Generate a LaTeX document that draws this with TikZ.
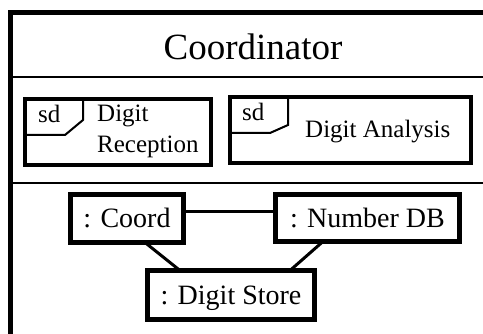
\documentclass[tikz,border=0pt]{standalone}
\usepackage{fontspec}
\setmainfont{Liberation Serif}
\begin{document}
\begin{tikzpicture}[x=1pt,y=-1pt,
  frame/.style={line width=4.5pt},
  divider/.style={line width=2.5pt},
  sdbox/.style={draw,line width=4.5pt,outer sep=0pt,inner sep=0pt,minimum height=66pt},
  tabline/.style={line width=2pt,line join=miter},
  objbox/.style={draw,line width=5pt,outer sep=0pt,inner sep=0pt,minimum height=47pt,
    font=\fontsize{28}{30}\selectfont,text height=21pt,text depth=2pt},
  link/.style={line width=3pt},
  sdtext/.style={font=\fontsize{25}{27}\selectfont,anchor=base west,inner sep=0pt}
]
\useasboundingbox (0,0) rectangle (483,334);
\fill[white] (0,0) rectangle (483,334);
% outer frame and compartments
\draw[frame] (10.5,345) -- (10.5,12.5) -- (495,12.5);
\draw[divider] (10.5,77) -- (495,77);
\draw[divider] (10.5,183) -- (495,183);
\node[font=\fontsize{37}{40}\selectfont,anchor=base,inner sep=0pt] (title) at (253,60) {Coordinator};
% sd Digit Reception
\node[sdbox,minimum width=186pt] (dr) at (118,132) {};
\draw[tabline] ([xshift=58pt]dr.north west) -- ++(0,21) -- ++(-18,15) -- ([yshift=-36pt]dr.north west);
\node[sdtext] (drsd) at ([xshift=13pt,yshift=-24pt]dr.north west) {sd};
\node[sdtext] (drl1) at ([xshift=72pt,yshift=-22.7pt]dr.north west) {Digit};
\node[sdtext] (drl2) at ([xshift=72pt,yshift=-54pt]dr.north west) {Reception};
% sd Digit Analysis
\node[sdbox,minimum width=241pt] (da) at (350.5,130) {};
\draw[tabline] ([xshift=58pt]da.north west) -- ++(0,28) -- ++(-18,8) -- ([yshift=-36pt]da.north west);
\node[sdtext] (dasd) at ([xshift=12pt,yshift=-24pt]da.north west) {sd};
\node[sdtext] (dal) at ([xshift=75pt,yshift=-41pt]da.north west) {Digit Analysis};
% composite structure
\node[objbox,minimum width=113pt,minimum height=48pt] (coord) at (127,218.5) {: Coord};
\node[objbox,minimum width=184pt] (numdb) at (367.5,218) {: Number DB};
\node[objbox,minimum width=167pt,minimum height=49pt] (store) at (231,295) {: Digit Store};
\draw[link] ([yshift=6.5pt]coord.east) -- ([yshift=6pt]numdb.west);
\draw[link] ([xshift=18pt]coord.south) -- ([xshift=-51pt]store.north);
\draw[link] ([xshift=-44.5pt]numdb.south) -- ([xshift=59pt]store.north);
\end{tikzpicture}
\end{document}
